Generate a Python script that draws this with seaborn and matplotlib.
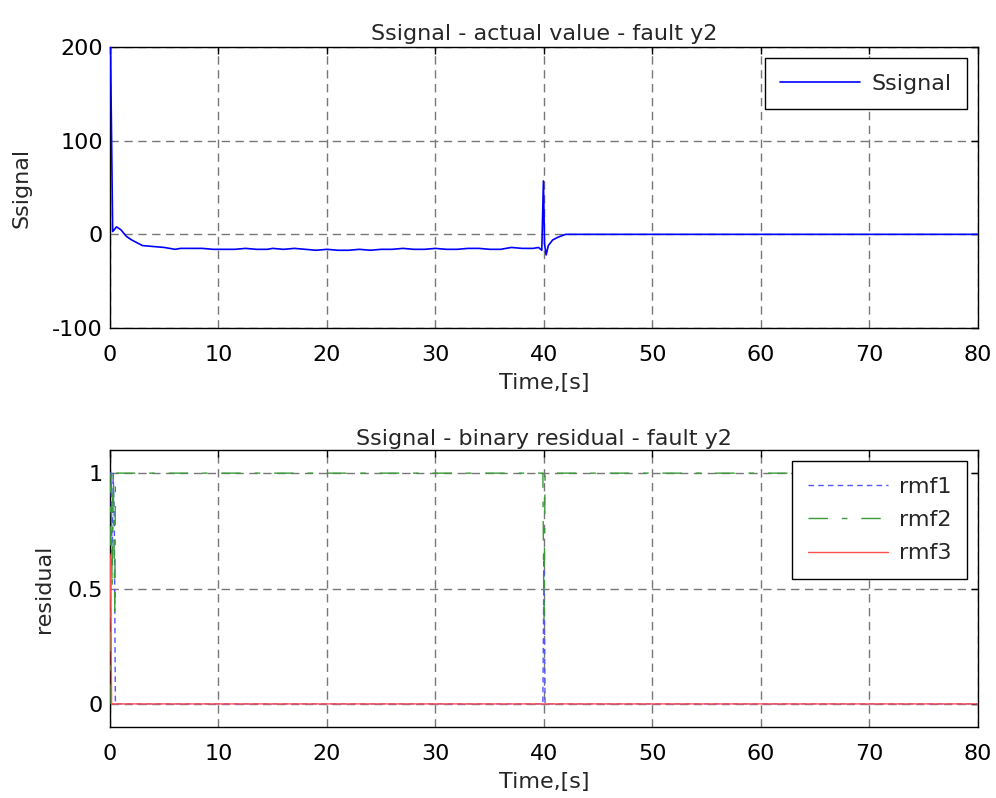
import pandas as pd
import seaborn as sns
import matplotlib.pyplot as plt

# top plot: Ssignal actual value
ssignal_t = [0, 0.05, 0.25, 0.4, 0.6, 1.0, 1.5, 2.0, 3.0, 4.0, 5.0, 6.0, 6.5, 7.5,
             8.5, 9.5, 10.5, 11.5, 12.5, 13.5, 14.5, 15, 16, 17, 18, 19, 20, 21,
             22, 23, 24, 25, 26, 27, 28, 29, 30, 31, 32, 33, 34, 35, 36, 37, 38,
             39, 39.5, 39.8, 39.95, 40.05, 40.2, 40.4, 40.8, 41.3, 42, 80]
ssignal_v = [200, 200, 3, 5, 8, 5, -2, -6, -12, -13, -14, -16, -15, -15,
             -15, -16, -16, -16, -15, -16, -16, -15, -16, -15, -16, -17, -16, -17,
             -17, -16, -17, -16, -16, -15, -16, -16, -15, -16, -16, -15, -15, -16, -16, -14, -15,
             -15, -14, -17, 57, -10, -22, -12, -6, -3, 0, 0]

# bottom plot: binary residuals
rmf1_t = [0, 0.1, 0.2, 0.3, 0.4, 0.5, 39.9, 40.0, 40.1, 80]
rmf1_v = [1, 1, 0.6, 1, 0.8, 0, 0, 0.65, 0, 0]
rmf2_t = [0, 0.1, 0.2, 0.3, 0.45, 0.5, 39.9, 40.0, 40.1, 80]
rmf2_v = [0, 1, 0.5, 1, 0.4, 1, 1, 0.35, 1, 1]
rmf3_t = [0, 0.05, 0.15, 80]
rmf3_v = [0.65, 0.62, 0, 0]

x_ticks = [0, 10, 20, 30, 40, 50, 60, 70, 80]

sns.set_theme(style="white")
plt.rcParams['font.family'] = ['DejaVu Sans']
plt.rcParams['axes.unicode_minus'] = False

fig = plt.figure(figsize=(9.96, 7.98), dpi=100)
ax1 = fig.add_axes([0.1104, 0.589, 0.8715, 0.352])
ax2 = fig.add_axes([0.1104, 0.089, 0.8715, 0.347])

top_df = pd.DataFrame({'t': ssignal_t, 'v': ssignal_v})
sns.lineplot(data=top_df, x='t', y='v', ax=ax1, color='#0000ff', lw=1.2,
             estimator=None, sort=False, label='Ssignal', zorder=3)

for t, v, c, ls, lab in [(rmf1_t, rmf1_v, '#5555ff', (0, (4, 3)), 'rmf1'),
                         (rmf2_t, rmf2_v, '#3a9a3a', (0, (14, 10, 4, 10)), 'rmf2'),
                         (rmf3_t, rmf3_v, '#ff5050', '-', 'rmf3')]:
    df = pd.DataFrame({'t': t, 'v': v})
    sns.lineplot(data=df, x='t', y='v', ax=ax2, color=c, lw=1, linestyle=ls,
                 estimator=None, sort=False, label=lab, zorder=3)

ax1.set_ylim(-100, 200)
ax1.set_yticks([-100, 0, 100, 200])
ax2.set_ylim(-0.1, 1.1)
ax2.set_yticks([0, 0.5, 1])
ax2.set_yticklabels(['0', '0.5', '1'])

for ax in (ax1, ax2):
    ax.set_xlim(0, 80)
    ax.set_xticks(x_ticks)
    ax.grid(True, color='#777777', linestyle=(0, (6, 4)), lw=1)
    ax.tick_params(direction='in', length=5, width=1, labelsize=16, colors='black',
                   top=True, right=True)
    ax.tick_params(axis='x', pad=12)
    ax.tick_params(axis='y', pad=5)
    for s in ax.spines.values():
        s.set_color('black')
        s.set_linewidth(1)
    ax.set_xlabel('Time,[s]', fontsize=16, labelpad=6)

ax1.set_ylabel('Ssignal', fontsize=16)
ax2.set_ylabel('residual', fontsize=16)
ax1.yaxis.set_label_coords(-0.09, 0.5)
ax2.yaxis.set_label_coords(-0.065, 0.5)
ax1.set_title('Ssignal - actual value - fault y2', fontsize=16, pad=5)
ax2.set_title('Ssignal - binary residual - fault y2', fontsize=16, pad=4)

for ax in (ax1, ax2):
    leg = ax.legend(loc='upper right', fontsize=16, frameon=True, fancybox=False,
                    edgecolor='black', framealpha=1, handlelength=3.6,
                    handletextpad=0.5, borderpad=0.7, labelspacing=0.6,
                    borderaxespad=0.5)
    leg.get_frame().set_linewidth(1)

fig.savefig('out.png', dpi=100)
